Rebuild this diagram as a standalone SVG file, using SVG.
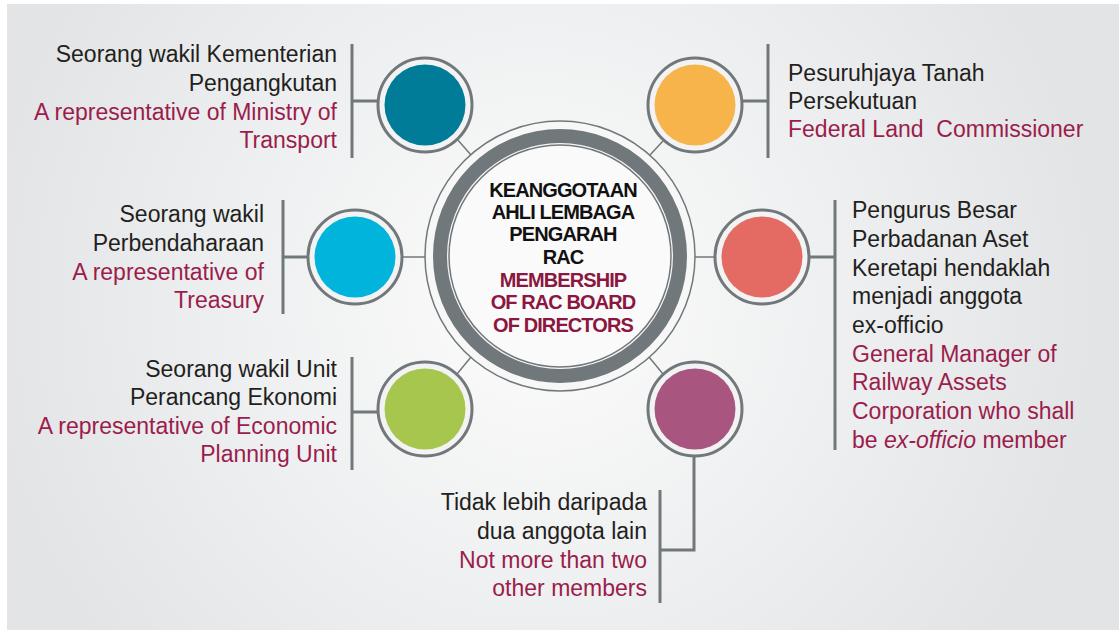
<svg xmlns="http://www.w3.org/2000/svg" width="1119" height="631" viewBox="0 0 1119 631">
<style>
.t{font-family:"Liberation Sans",Arial,sans-serif;font-size:23px;fill:#231f20}
.r{fill:#9b1d4c}
.e{text-anchor:end}
.h{font-family:"Liberation Sans",Arial,sans-serif;font-size:20px;font-weight:bold;fill:#111;text-anchor:middle;letter-spacing:-0.9px}
.hr{fill:#8b1640}
.bar{stroke:#71787b;stroke-width:3;fill:none}
.thin{stroke:#71787b;stroke-width:1.5;fill:none}
.ring{stroke:#71787b;stroke-width:3;fill:#f3f3f4}
</style>
<defs>
<radialGradient id="bg" cx="540" cy="300" r="560" gradientUnits="userSpaceOnUse">
<stop offset="0" stop-color="#fcfcfc"/>
<stop offset="0.55" stop-color="#eeeff0"/>
<stop offset="1" stop-color="#e3e4e6"/>
</radialGradient>
</defs>
<rect x="0" y="0" width="1119" height="631" fill="#ffffff"/>
<rect x="7" y="4" width="1112" height="626" fill="url(#bg)"/>

<g id="connectors">
<line class="bar" x1="352" y1="44" x2="352" y2="158"/>
<line class="bar" x1="352" y1="101" x2="377" y2="101"/>
<line class="bar" x1="283" y1="200" x2="283" y2="314"/>
<line class="bar" x1="283" y1="257" x2="307" y2="257"/>
<line class="bar" x1="352" y1="357" x2="352" y2="470"/>
<line class="bar" x1="352" y1="412" x2="377" y2="412"/>
<line class="bar" x1="768" y1="44" x2="768" y2="158"/>
<line class="bar" x1="743" y1="101" x2="768" y2="101"/>
<line class="bar" x1="835" y1="200" x2="835" y2="450"/>
<line class="bar" x1="810" y1="257" x2="835" y2="257"/>
<polyline class="bar" points="694,457 694,550 660,550"/>
<line class="bar" x1="660" y1="490" x2="660" y2="603"/>
<line class="thin" x1="457" y1="139" x2="471" y2="155"/>
<line class="thin" x1="663" y1="141" x2="650" y2="155"/>
<line class="thin" x1="457" y1="374" x2="471" y2="357"/>
<line class="thin" x1="663" y1="374" x2="649" y2="357"/>
<line class="thin" x1="403" y1="257" x2="425" y2="257"/>
<line class="thin" x1="695" y1="257" x2="714" y2="257"/>
</g>

<g id="center">
<circle cx="560" cy="256" r="135" fill="#f7f7f7" stroke="#71787b" stroke-width="1.5"/>
<circle cx="560" cy="256" r="120" fill="none" stroke="#71787b" stroke-width="14"/>
<circle cx="560" cy="256" r="111" fill="#fafafa" stroke="#71787b" stroke-width="1.5"/>
<text class="h" x="563" y="197">KEANGGOTAAN</text>
<text class="h" x="563" y="219">AHLI LEMBAGA</text>
<text class="h" x="563" y="241">PENGARAH</text>
<text class="h" x="563" y="264">RAC</text>
<text class="h hr" x="563" y="287">MEMBERSHIP</text>
<text class="h hr" x="563" y="309">OF RAC BOARD</text>
<text class="h hr" x="563" y="332">OF DIRECTORS</text>
</g>

<g id="transport">
<circle class="ring" cx="425" cy="105" r="47"/>
<circle cx="425" cy="105" r="40.5" fill="#007c98"/>
<text class="t e" x="337" y="62">Seorang wakil Kementerian</text>
<text class="t e" x="337" y="91">Pengangkutan</text>
<text class="t e r" x="337" y="120">A representative of Ministry of</text>
<text class="t e r" x="337" y="148">Transport</text>
</g>

<g id="treasury">
<circle class="ring" cx="355" cy="257" r="47"/>
<circle cx="355" cy="257" r="40.5" fill="#00b4dc"/>
<text class="t e" x="264" y="222">Seorang wakil</text>
<text class="t e" x="264" y="251">Perbendaharaan</text>
<text class="t e r" x="264" y="280">A representative of</text>
<text class="t e r" x="264" y="308">Treasury</text>
</g>

<g id="epu">
<circle class="ring" cx="425" cy="409" r="47"/>
<circle cx="425" cy="409" r="40.5" fill="#a6c64e"/>
<text class="t e" x="337" y="377">Seorang wakil Unit</text>
<text class="t e" x="337" y="405">Perancang Ekonomi</text>
<text class="t e r" x="337" y="434">A representative of Economic</text>
<text class="t e r" x="337" y="462">Planning Unit</text>
</g>

<g id="land">
<circle class="ring" cx="695" cy="105" r="47"/>
<circle cx="695" cy="105" r="40.5" fill="#f6b44b"/>
<text class="t" x="788" y="81">Pesuruhjaya Tanah</text>
<text class="t" x="788" y="109">Persekutuan</text>
<text class="t r" x="788" y="137" xml:space="preserve">Federal Land  Commissioner</text>
</g>

<g id="railway">
<circle class="ring" cx="762" cy="257" r="47"/>
<circle cx="762" cy="257" r="40.5" fill="#e36b63"/>
<text class="t" x="852" y="218">Pengurus Besar</text>
<text class="t" x="852" y="247">Perbadanan Aset</text>
<text class="t" x="852" y="276">Keretapi hendaklah</text>
<text class="t" x="852" y="304">menjadi anggota</text>
<text class="t" x="852" y="333">ex-officio</text>
<text class="t r" x="852" y="362">General Manager of</text>
<text class="t r" x="852" y="390">Railway Assets</text>
<text class="t r" x="852" y="419">Corporation who shall</text>
<text class="t r" x="852" y="448">be <tspan font-style="italic">ex-officio</tspan> member</text>
</g>

<g id="others">
<circle class="ring" cx="695" cy="409" r="47"/>
<circle cx="695" cy="409" r="40.5" fill="#a85680"/>
<text class="t e" x="647" y="510">Tidak lebih daripada</text>
<text class="t e" x="647" y="539">dua anggota lain</text>
<text class="t e r" x="647" y="568">Not more than two</text>
<text class="t e r" x="647" y="596">other members</text>
</g>
</svg>
